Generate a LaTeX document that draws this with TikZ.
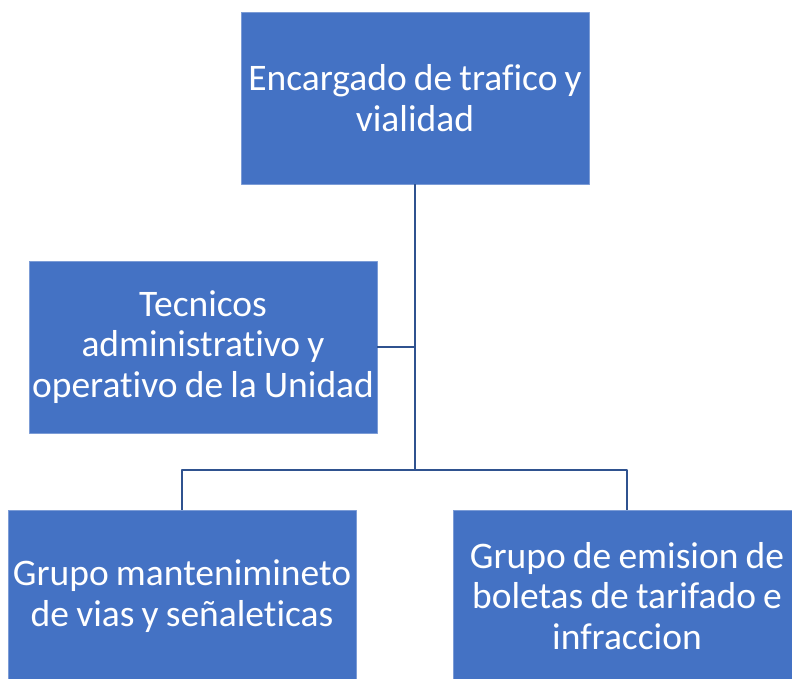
\documentclass[tikz,border=0pt]{standalone}
\usepackage{fontspec}
\setmainfont{Carlito}[Ligatures=NoCommon, WordSpace=0.85]
\definecolor{azulcaja}{HTML}{4472C4}
\definecolor{azullinea}{HTML}{2F528F}
\begin{document}
\begin{tikzpicture}[x=1pt, y=-1pt, line join=round, line cap=round,
	caja/.style={fill=azulcaja, draw=azulcaja!70!white, line width=.8pt,
		minimum width=348, minimum height=172, inner sep=0pt,
		align=center, text=white,
		font=\fontsize{37.5}{40.5}\selectfont},
	conector/.style={draw=azullinea, line width=2.4pt, line cap=butt}]
	\useasboundingbox (0,0) rectangle (792,679);
	\clip (0,0) rectangle (792,679);
	%% Khai bao diem
	\path
	(415,98) coordinate (P1)
	(203,347) coordinate (P2)
	(182,596) coordinate (P3)
	(627,596) coordinate (P4)
	(415,470) coordinate (bus)
	;
	%% cajas
	\node[caja] (enc) at (P1) {Encargado de trafico y\\vialidad};
	\node[caja] (tec) at (P2) {Tecnicos\\administrativo y\\operativo de la Unidad};
	\node[caja] (mant) at (P3) {Grupo mantenimineto\\de vias y señaleticas};
	\node[caja] (emis) at (P4) {Grupo de emision de\\boletas de tarifado e\\infraccion};
	%% lineas
	\draw[conector] (enc.south) -- (bus);
	\draw[conector] (tec.east) -- (tec.east -| bus);
	\draw[conector] (mant.north) |- (bus) -| (emis.north);
\end{tikzpicture}
\end{document}
